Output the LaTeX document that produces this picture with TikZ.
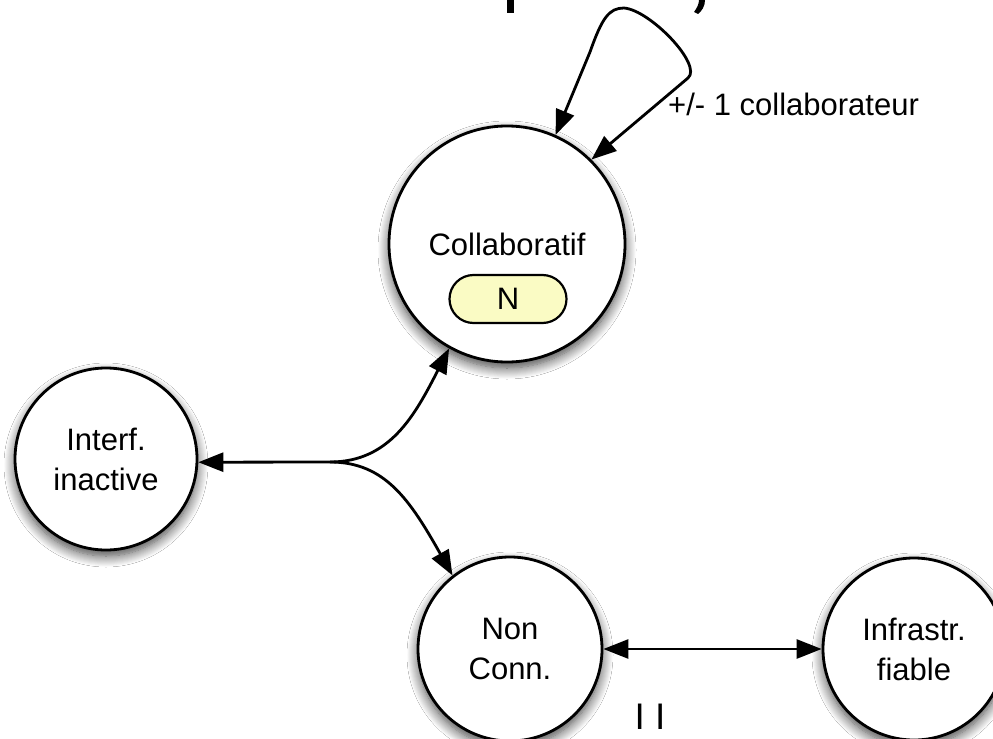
\documentclass[tikz,border=0pt]{standalone}
\usepackage{fontspec}
\setmainfont{Liberation Sans}
\usetikzlibrary{arrows.meta,shapes.misc,shadows.blur}
\definecolor{pillyellow}{RGB}{250,251,196}
\begin{document}
\begin{tikzpicture}[x=1bp,y=-1bp,
  every node/.style={font=\fontsize{31bp}{40bp}\selectfont},
  statebox/.style={circle, draw=black, line width=2.8bp, fill=white, inner sep=0pt, align=center,
    blur shadow={shadow xshift=0bp, shadow yshift=-6bp, shadow blur radius=11bp, shadow blur steps=12, shadow opacity=75}},
  smallstate/.style={statebox, minimum size=182bp},
  bigstate/.style={statebox, minimum size=236bp},
  pillbox/.style={rounded rectangle, draw=black, line width=2.2bp, fill=pillyellow,
    minimum width=117bp, minimum height=48bp, inner sep=0pt},
  link/.style={line width=2.8bp, {Triangle[length=25bp,width=19bp]}-{Triangle[length=25bp,width=19bp]}},
  linkone/.style={line width=2.8bp, -{Triangle[length=25bp,width=19bp]}}
]
\useasboundingbox (0,0) rectangle (993,739);
\begin{scope}
\clip (0,0) rectangle (993,739);
\fill[white] (0,0) rectangle (993,739);

% fragments of a cut-off title
\fill[black] (507,0) rectangle (513.5,13);
\fill[black] (699,0) -- (705,0) .. controls (705,6) and (702,11) .. (698,14) -- (694,12) .. controls (697,8) and (699,4) .. (699,0) -- cycle;

% states
\node[bigstate] (collab) at (507,244) {};
\node (ctext) at (507,244) {Collaboratif};
\node[pillbox] (pill) at (508,299) {N};
\node[smallstate] (interf) at (106,459) {Interf.\\inactive};
\node[smallstate, minimum size=184bp] (nonconn) at (510,649) {Non\\Conn.};
\node[smallstate] (infra) at (914,649) {Infrastr.\\fiable};

% self loop
\coordinate (la) at (590,52);
\coordinate (lt) at (624,8);
\coordinate (lr) at (688,78);
\draw[link] (collab.66) -- (la) .. controls (602,18) and (609,8) .. (lt)
  .. controls (650,10) and (703,65) .. (lr) -- (collab.45);
\node[anchor=base west, inner sep=0pt] (lbl) at (668,115) {+/- 1 collaborateur};

% fork
\coordinate (fork) at (330,462);
\draw[link] (interf.-2) -- (fork) .. controls (390,462) and (415,415) .. (collab.241);
\draw[linkone] (fork) .. controls (385,462) and (410,500) .. (nonconn.128);

% horizontal
\draw[link] (nonconn.east) -- (infra.west);

\node[font=\fontsize{37bp}{40bp}\selectfont] (ii) at (650,717) {I I};
\end{scope}
\end{tikzpicture}
\end{document}
